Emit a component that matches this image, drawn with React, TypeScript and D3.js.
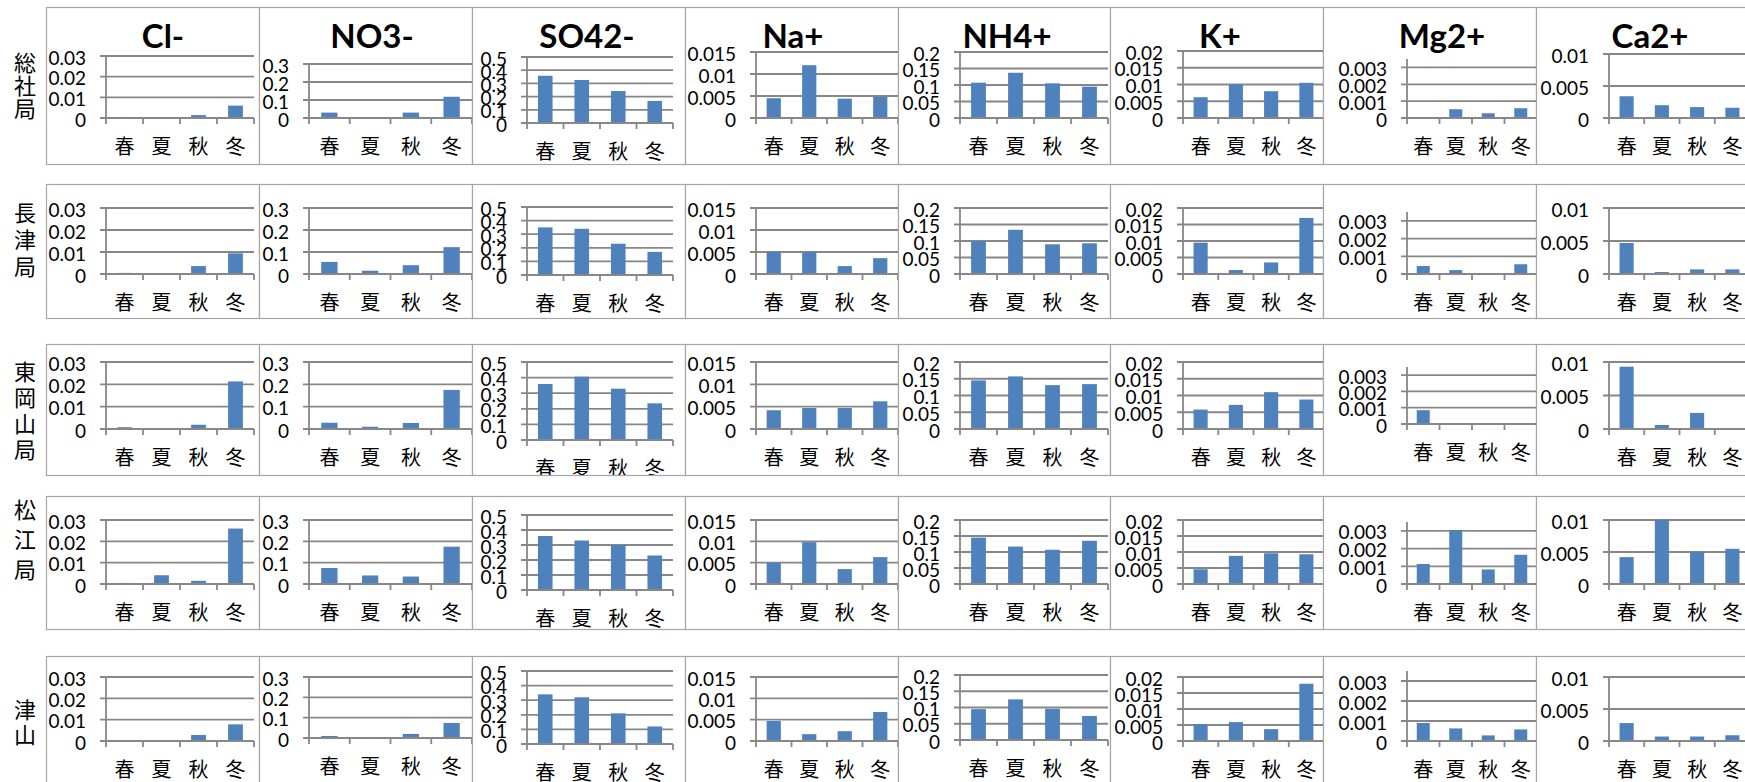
import React from 'react';
import * as d3 from 'd3';

// ---------- data ----------
const seasons = ['春', '夏', '秋', '冬'];
const stations = ['総社局', '長津局', '東岡山局', '松江局', '津山'];
const ions = ['Cl-', 'NO3-', 'SO42-', 'Na+', 'NH4+', 'K+', 'Mg2+', 'Ca2+'];

const clValues = [
  [0.0005, 0, 0.0014, 0.006],
  [0.0005, 0.0003, 0.0036, 0.0094],
  [0.0008, 0, 0.0019, 0.0213],
  [0.0005, 0.0041, 0.0015, 0.026],
  [0, 0.0002, 0.0028, 0.0078],
];
const no3Values = [
  [0.03, 0.005, 0.03, 0.118],
  [0.055, 0.015, 0.04, 0.122],
  [0.028, 0.01, 0.027, 0.175],
  [0.075, 0.04, 0.035, 0.175],
  [0.01, 0.005, 0.02, 0.074],
];
const so4Values = [
  [0.358, 0.326, 0.242, 0.167],
  [0.35, 0.34, 0.23, 0.17],
  [0.359, 0.406, 0.329, 0.235],
  [0.36, 0.33, 0.3, 0.23],
  [0.34, 0.32, 0.21, 0.12],
];
const naValues = [
  [0.0045, 0.012, 0.0044, 0.0048],
  [0.005, 0.005, 0.0018, 0.0036],
  [0.0042, 0.0047, 0.0047, 0.0062],
  [0.005, 0.0098, 0.0035, 0.0063],
  [0.0047, 0.0016, 0.0023, 0.0068],
];
const nh4Values = [
  [0.107, 0.137, 0.105, 0.095],
  [0.1, 0.134, 0.09, 0.093],
  [0.145, 0.157, 0.131, 0.134],
  [0.145, 0.117, 0.107, 0.135],
  [0.095, 0.125, 0.096, 0.074],
];
const kValues = [
  [0.0062, 0.01, 0.008, 0.0105],
  [0.0095, 0.0012, 0.0035, 0.017],
  [0.0058, 0.0072, 0.011, 0.0088],
  [0.0046, 0.0088, 0.0096, 0.0093],
  [0.0052, 0.0059, 0.0037, 0.0179],
];
const mgValues = [
  [0, 0.00052, 0.00028, 0.00058],
  [0.00045, 0.00022, 0, 0.00055],
  [0.00085, 0, 0, 0],
  [0.00113, 0.00305, 0.00082, 0.00165],
  [0.0009, 0.00063, 0.00028, 0.00058],
];
const caValues = [
  [0.0034, 0.002, 0.0017, 0.0016],
  [0.0047, 0.0003, 0.0007, 0.0007],
  [0.0093, 0.0006, 0.0024, 0.0001],
  [0.0042, 0.01, 0.005, 0.0055],
  [0.0028, 0.0007, 0.0007, 0.0009],
];
const ionValues = [clValues, no3Values, so4Values, naValues, nh4Values, kValues, mgValues, caValues];

const clTicks = [0, 0.01, 0.02, 0.03];
const no3Ticks = [0, 0.1, 0.2, 0.3];
const so4Ticks = [0, 0.1, 0.2, 0.3, 0.4, 0.5];
const naTicks = [0, 0.005, 0.01, 0.015];
const nh4Ticks = [0, 0.05, 0.1, 0.15, 0.2];
const kTicks = [0, 0.005, 0.01, 0.015, 0.02];
const mgTicks = [0, 0.001, 0.002, 0.003];
const caTicks = [0, 0.005, 0.01];
const ionTicks = [clTicks, no3Ticks, so4Ticks, naTicks, nh4Ticks, kTicks, mgTicks, caTicks];
const axisMax = [0.03, 0.3, 0.5, 0.015, 0.2, 0.02, 0.0035, 0.01];

// ---------- layout ----------
const W = 1745;
const H = 782;
const colBorders = [46, 259, 472, 685, 898, 1110, 1323, 1536, 1760];
const rowBorders = [
  [7, 164],
  [184, 318],
  [344, 475],
  [496, 629],
  [656, 800],
];
const plotLeft = [106, 309, 527, 756, 960, 1183, 1407, 1609];
const plotRight = [254, 472, 673, 898, 1108, 1324, 1537, 1750];
const plotTop = [
  [56, 64, 57, 52, 52, 51, 59, 54],
  [208, 208, 207, 208, 208, 208, 212, 208],
  [362, 362, 362, 362, 362, 362, 367, 362],
  [520, 520, 515, 520, 520, 520, 522, 520],
  [677, 677, 671, 677, 675, 677, 671, 677],
];
const plotBottom = [
  [118, 118, 123, 118, 118, 118, 118, 118],
  [274, 274, 275, 274, 274, 274, 274, 274],
  [429, 429, 440, 429, 429, 429, 424, 429],
  [584, 584, 590, 584, 584, 584, 584, 584],
  [741, 738, 744, 741, 740, 741, 741, 741],
];
const titleX = [163, 372, 587, 793, 1007, 1220, 1442, 1650];
const rowLabelCenter = [84, 238, 409, 538, 720];
const rowLabelPitch = [23, 27, 26, 30, 25];

const BAR = '#4F81BD';
const GRID = '#878787';
const BORDER = '#A6A6A6';
const NUM_FONT = 'Lato, "Liberation Sans", sans-serif';
const CJK_FONT = '"Noto Sans CJK JP", "Noto Sans", sans-serif';

function Cell({ r, c }: { r: number; c: number }) {
  const left = plotLeft[c];
  const right = plotRight[c];
  const top = plotTop[r][c];
  const bottom = plotBottom[r][c];
  const x = d3.scaleBand<string>().domain(seasons).range([left, right]).paddingInner(0.6).paddingOuter(0.3);
  const y = d3.scaleLinear().domain([0, axisMax[c]]).range([bottom, top]);
  const step = x.step();
  const values = ionValues[c][r];
  const ticks = ionTicks[c];
  const cx0 = colBorders[c];
  const cx1 = colBorders[c + 1];
  const [cy0, cy1] = rowBorders[r];
  const clipId = `clip-${r}-${c}`;
  return (
    <g>
      <defs>
        <clipPath id={clipId}>
          <rect x={cx0} y={cy0} width={cx1 - cx0} height={cy1 - cy0} />
        </clipPath>
      </defs>
      <rect x={cx0 + 0.5} y={cy0 + 0.5} width={cx1 - cx0} height={cy1 - cy0} fill="#fff" stroke={BORDER} strokeWidth={1.2} />
      <g clipPath={`url(#${clipId})`}>
        {r === 0 && (
          <text x={titleX[c]} y={48} textAnchor="middle" fontFamily={NUM_FONT} fontWeight={700} fontSize={33} fill="#000">
            {ions[c]}
          </text>
        )}
        {ticks.map((t) => (
          <line key={'g' + t} x1={left - 6} x2={right} y1={y(t)} y2={y(t)} stroke={GRID} strokeWidth={1.8} />
        ))}
        {values.map((v, i) => (
          <rect key={'b' + i} x={x(seasons[i])} width={x.bandwidth()} y={y(v)} height={bottom - y(v)} fill={BAR} />
        ))}
        <line x1={left} x2={left} y1={top} y2={bottom} stroke={GRID} strokeWidth={1.8} />
        <line x1={left} x2={right} y1={bottom} y2={bottom} stroke={GRID} strokeWidth={1.8} />
        {d3.range(5).map((i) => (
          <line key={'t' + i} x1={left + i * step} x2={left + i * step} y1={bottom} y2={bottom + 6} stroke={GRID} strokeWidth={1.8} />
        ))}
        {ticks.map((t) => (
          <text key={'l' + t} x={left - 20} y={y(t) + 1} textAnchor="end" dominantBaseline="central" fontFamily={NUM_FONT} fontSize={19} fill="#000">
            {String(t)}
          </text>
        ))}
        {seasons.map((s) => (
          <text key={s} x={(x(s) as number) + x.bandwidth() / 2} y={bottom + 27} textAnchor="middle" dominantBaseline="central" fontFamily={CJK_FONT} fontSize={20} fill="#000">
            {s}
          </text>
        ))}
      </g>
    </g>
  );
}

export default function App() {
  return (
    <svg width={W} height={H} style={{ position: 'absolute', left: 0, top: 0, background: '#fff' }}>
      <rect x={0} y={0} width={W} height={H} fill="#fff" />
      {stations.map((name, r) => {
        const chars = Array.from(name);
        const n = chars.length;
        return (
          <g key={name}>
            {chars.map((ch, k) => (
              <text key={k} x={25} y={rowLabelCenter[r] + (k - (n - 1) / 2) * rowLabelPitch[r]} textAnchor="middle" dominantBaseline="central" fontFamily={CJK_FONT} fontSize={22} fill="#000">
                {ch}
              </text>
            ))}
          </g>
        );
      })}
      {stations.map((_, r) => ions.map((__, c) => <Cell key={`${r}-${c}`} r={r} c={c} />))}
    </svg>
  );
}
